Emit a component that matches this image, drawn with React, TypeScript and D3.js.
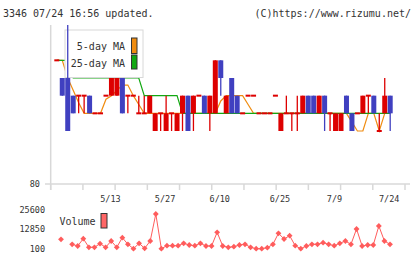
import React from "react";
import * as d3 from "d3";

// trading days shown on the chart
const dates = [
  "4/24", "4/25", "4/26", "4/30", "5/1", "5/2", "5/7", "5/8", "5/9", "5/10",
  "5/13", "5/14", "5/15", "5/16", "5/17", "5/20", "5/21", "5/22", "5/23", "5/24",
  "5/27", "5/28", "5/29", "5/30", "5/31", "6/3", "6/4", "6/5", "6/6", "6/7",
  "6/10", "6/11", "6/12", "6/13", "6/14", "6/17", "6/18", "6/19", "6/20", "6/21",
  "6/24", "6/25", "6/26", "6/27", "6/28", "7/1", "7/2", "7/3", "7/4", "7/5",
  "7/8", "7/9", "7/10", "7/11", "7/12", "7/16", "7/17", "7/18", "7/19", "7/22",
  "7/23", "7/24",
];
const dateLabels = ["5/13", "5/27", "6/10", "6/25", "7/9", "7/24"];

const open = [87, 86, 86, 85, 85, 85, 85, 84, 84, 85, 85, 85, 86, 85, 85, 84, 84, 84, 83, 84, 83, 84, 83, 84, 85, 84, 85, 85, 84, 84, 87, 84, 86, 85, 84, 85, 85, 84, 84, 84, 85, 83, 84, 84, 84, 84, 85, 85, 84, 85, 84, 83, 83, 85, 84, 84, 84, 85, 85, 83, 84, 85];
const high = [87, 86, 89, 85, 85, 85, 85, 84, 84, 85, 86, 86, 86, 85, 85, 85, 85, 85, 84, 84, 85, 84, 84, 85, 85, 85, 85, 85, 85, 87, 87, 85, 86, 85, 84, 85, 85, 84, 84, 84, 85, 84, 85, 84, 85, 85, 85, 85, 85, 85, 84, 84, 84, 85, 84, 84, 85, 85, 85, 84, 86, 85];
const low = [87, 85, 83, 84, 84, 84, 84, 84, 84, 85, 85, 85, 84, 84, 85, 84, 84, 84, 83, 83, 83, 83, 83, 83, 83, 83, 85, 84, 83, 84, 85, 84, 84, 84, 84, 85, 85, 84, 84, 84, 85, 83, 84, 83, 83, 84, 84, 84, 84, 83, 83, 83, 83, 84, 83, 84, 84, 84, 84, 83, 84, 83];
const close = [87, 85, 83, 84, 85, 85, 84, 84, 84, 85, 86, 86, 84, 85, 85, 84, 84, 85, 84, 84, 84, 84, 84, 85, 83, 85, 85, 84, 85, 87, 86, 85, 84, 84, 84, 85, 85, 84, 84, 84, 85, 84, 84, 84, 84, 85, 84, 84, 85, 84, 84, 84, 84, 84, 83, 84, 85, 85, 84, 83, 85, 84];

const ma5 = [87, 87, 86, 85.3, 84.6, 84, 84, 84, 84, 84.8, 85, 85.3, 85.6, 85.6, 85, 84.5, 84, 84, 84, 84, 84, 84, 84, 84, 84, 84, 84, 84, 84, 84, 84.7, 85, 85, 85, 85, 84.5, 84, 84, 84, 84, 84, 84, 84, 84, 84, 84, 84, 84, 84, 84, 84, 84, 84, 84, 83.5, 83, 83, 84, 84, 83, 84, 84];
const ma25 = [87, 87, 87, 86, 86, 86, 86, 86, 86, 86, 86, 86, 86, 86, 86, 86, 85, 85, 85, 85, 85, 85, 85, 84, 84, 84, 84, 84, 84, 84, 84, 84, 84, 84, 84, 84, 84, 84, 84, 84, 84, 84, 84, 84, 84, 84, 84, 84, 84, 84, 84, 84, 84, 84, 84, 84, 84, 84, 84, 84, 84, 84];

// volume points (one gap near the start)
const volume: (number | null)[] = [
  6360, null, 3130, 2040, 6750, 1200, 1200, 3520, 1200, 5260,
  1200, 7400, 3130, 300, 3780, 550, 5260, 22700, 300, 2230,
  2230, 2230, 3780, 2680, 2230, 3780, 2040, 2040, 10880, 2040,
  1200, 1580, 2680, 3130, 1200, 300, 300, 940, 3130, 10240,
  6550, 8690, 2230, 300, 2040, 3130, 3130, 4170, 3130, 2230,
  3780, 5260, 3130, 13010, 2040, 2680, 2680, 14950, 5260, 3130,
];
const volumeTicks = [100, 12850, 25600];
const priceTicks = [80];

const RED = "#dd0000";
const BLUE = "#4040c0";
const ORANGE = "#f08c10";
const GREEN = "#12a812";
const GRID = "#d8d8d8";
const VOL = "#ff5c5c";
const FONT = "'DejaVu Sans Mono', monospace";

export default function App() {
  const width = 420;
  const height = 259;

  const x = d3.scalePoint<string>().domain(dates).range([56.8, 390.2]);
  const y = d3.scaleLinear().domain([80, 89]).range([184, 25]);
  const tickX = d3.scaleLinear().domain([0, 11]).range([50.7, 405]);
  const xv = d3.scalePoint<number>().domain(d3.range(volume.length)).range([61, 390]);
  const yv = d3.scaleLinear().domain([100, 25600]).range([249, 209.5]);

  const lineOf = (vals: number[]) =>
    d3.line<number>()
      .x((_, i) => x(dates[i]) as number)
      .y((d) => y(d))(vals) as string;

  const volLine = d3.line<number | null>()
    .defined((d) => d != null)
    .x((_, i) => xv(i) as number)
    .y((d) => yv(d as number))(volume) as string;

  const diamond = d3.symbol().type(d3.symbolSquare).size(17)() as string;
  const bw = 5;

  return (
    <svg width={width} height={height} style={{ position: "absolute", left: 0, top: 0, background: "#fff" }} fontFamily={FONT}>
      <text x={3} y={17} fontSize={10} fill="#333">3346 07/24 16:56 updated.</text>
      <text x={411} y={17} fontSize={10} fill="#333" textAnchor="end">(C)https://www.rizumu.net/</text>

      {/* axes */}
      <line x1={50.7} x2={50.7} y1={25} y2={190} stroke={GRID} strokeWidth={1.5} />
      <line x1={50} x2={410} y1={184} y2={184} stroke={GRID} strokeWidth={1.5} />
      {d3.range(12).map((j) => (
        <line key={j} x1={tickX(j)} x2={tickX(j)} y1={184} y2={190} stroke={GRID} strokeWidth={1.5} />
      ))}
      {priceTicks.map((t) => (
        <g key={t}>
          <line x1={45} x2={50.7} y1={y(t)} y2={y(t)} stroke={GRID} strokeWidth={1.5} />
          <text x={40} y={y(t) + 3} fontSize={8.5} fill="#333" textAnchor="end">{t}</text>
        </g>
      ))}

      {/* moving averages */}
      <path d={lineOf(ma5)} fill="none" stroke={ORANGE} strokeWidth={1.2} />
      <path d={lineOf(ma25)} fill="none" stroke={GREEN} strokeWidth={1.2} />

      {/* legend */}
      <rect x={65} y={30} width={78} height={47.5} fill="#fff" stroke={GRID} strokeWidth={1} />
      <text x={125} y={49.5} fontSize={10} fill="#333" textAnchor="end">5-day MA</text>
      <text x={125} y={66.5} fontSize={10} fill="#333" textAnchor="end">25-day MA</text>
      <rect x={131.5} y={38} width={5.5} height={15.5} fill={ORANGE} stroke="#333" strokeWidth={1} />
      <rect x={131.5} y={55} width={5.5} height={14} fill={GREEN} stroke="#333" strokeWidth={1} />

      {/* candles */}
      {dates.map((d, i) => {
        const cx = x(d) as number;
        const o = open[i], c = close[i];
        const col = c < o ? BLUE : RED;
        const top = y(Math.max(o, c));
        const bot = y(Math.min(o, c));
        return (
          <g key={d}>
            {high[i] !== low[i] && (
              <line x1={cx} x2={cx} y1={y(high[i])} y2={y(low[i])} stroke={col} strokeWidth={1.3} />
            )}
            {o === c ? (
              <rect x={cx - bw / 2} y={top - 1} width={bw} height={2} fill={col} />
            ) : (
              <rect x={cx - bw / 2} y={top} width={bw} height={bot - top} fill={col} />
            )}
          </g>
        );
      })}

      {/* date labels */}
      {dateLabels.map((d) => (
        <text key={d} x={(x(d) as number) - 1} y={201.5} fontSize={8.5} fill="#333" textAnchor="middle">{d}</text>
      ))}

      {/* volume */}
      {volumeTicks.map((t) => (
        <text key={t} x={45} y={yv(t) + 3} fontSize={8.5} fill="#333" textAnchor="end">{t}</text>
      ))}
      <text x={59.5} y={225} fontSize={10} fill="#333">Volume</text>
      <rect x={101} y={213.5} width={6} height={14.5} fill="#ff6666" stroke="#333" strokeWidth={1} />
      <path d={volLine} fill="none" stroke={VOL} strokeWidth={1} />
      {volume.map((v, k) =>
        v == null ? null : (
          <path key={k} d={diamond} fill={VOL} transform={`translate(${xv(k)},${yv(v)}) rotate(45)`} />
        )
      )}
    </svg>
  );
}
